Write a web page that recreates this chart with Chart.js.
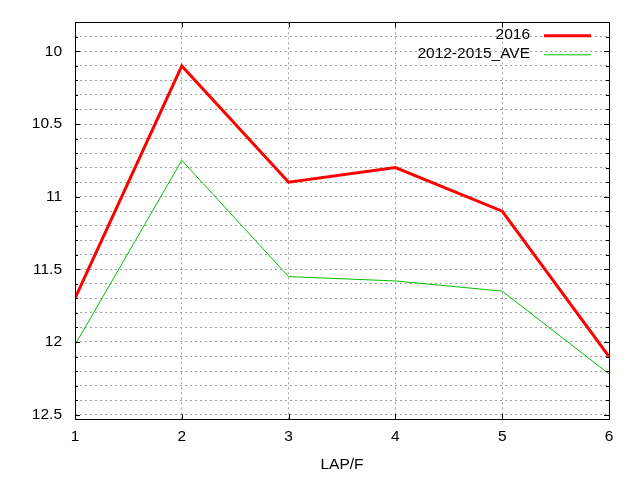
<!DOCTYPE html>
<html>
<head>
<meta charset="utf-8">
<script src="https://cdn.jsdelivr.net/npm/chart.js@4/dist/chart.umd.min.js"></script>
<style>
html,body{margin:0;padding:0;background:#fff;}
#wrap{width:640px;height:480px;}
</style>
</head>
<body>
<div id="wrap"><canvas id="c" width="640" height="480"></canvas></div>
<script>
const laps = [1, 2, 3, 4, 5, 6];
const series2016 = [11.7, 10.1, 10.9, 10.8, 11.1, 12.1];
const seriesAve = [12.02, 10.75, 11.55, 11.58, 11.65, 12.22];
const seriesNames = ['2016', '2012-2015_AVE'];
const xTickLabels = ['1', '2', '3', '4', '5', '6'];
const yTickLabels = ['10', '10.5', '11', '11.5', '12', '12.5'];

const FONT = "'Liberation Sans', Arial, sans-serif";
const FS = 15.5;

const framePlugin = {
  id: 'frame',
  afterDraw(chart) {
    const ctx = chart.ctx;
    const a = chart.chartArea;
    const ys = chart.scales.y, xs = chart.scales.x;
    ctx.save();
    ctx.strokeStyle = '#000';
    ctx.lineWidth = 1;
    ctx.strokeRect(Math.round(a.left) + 0.5, Math.round(a.top) + 0.5,
      Math.round(a.right - a.left), Math.round(a.bottom - a.top));
    ctx.beginPath();
    ys.ticks.forEach(t => {
      const r = Math.round(t.value * 10);
      const len = (r % 5 === 0) ? 5 : 3;
      const py = Math.round(ys.getPixelForValue(t.value)) + 0.5;
      ctx.moveTo(a.left, py); ctx.lineTo(a.left + len, py);
      ctx.moveTo(a.right, py); ctx.lineTo(a.right - len, py);
    });
    xs.ticks.forEach(t => {
      const px = Math.round(xs.getPixelForValue(t.value)) + 0.5;
      ctx.moveTo(px, a.bottom); ctx.lineTo(px, a.bottom - 5);
      ctx.moveTo(px, a.top); ctx.lineTo(px, a.top + 5);
    });
    ctx.stroke();
    ctx.font = FS + 'px ' + FONT;
    ctx.textAlign = 'right';
    ctx.textBaseline = 'middle';
    chart.data.datasets.forEach((ds, i) => {
      const y = a.top + 13 + i * 19;
      ctx.fillStyle = '#000';
      ctx.fillText(ds.label, a.right - 79, y - 1);
      ctx.strokeStyle = ds.borderColor;
      ctx.lineWidth = ds.borderWidth;
      ctx.beginPath();
      ctx.moveTo(a.right - 65, y + 0.5);
      ctx.lineTo(a.right - 18, y + 0.5);
      ctx.stroke();
    });
    ctx.restore();
  }
};

new Chart(document.getElementById('c'), {
  type: 'line',
  data: {
    labels: laps,
    datasets: [
      {
        label: seriesNames[0],
        data: laps.map((x, i) => ({x: x, y: series2016[i]})),
        borderColor: '#ff0000',
        borderWidth: 3,
        pointRadius: 0,
        tension: 0,
        fill: false
      },
      {
        label: seriesNames[1],
        data: laps.map((x, i) => ({x: x, y: seriesAve[i]})),
        borderColor: '#00c000',
        borderWidth: 1,
        pointRadius: 0,
        tension: 0,
        fill: false
      }
    ]
  },
  options: {
    responsive: false,
    animation: false,
    devicePixelRatio: 1,
    layout: { padding: { top: 20, right: 31, left: 0, bottom: 0 } },
    plugins: { legend: { display: false }, tooltip: { enabled: false } },
    scales: {
      x: {
        type: 'linear',
        min: 1, max: 6,
        afterFit(s) { s.height = 61; },
        afterBuildTicks(s) { s.ticks = laps.map(v => ({value: v})); },
        ticks: {
          padding: 8,
          color: '#000',
          font: { family: FONT, size: FS },
          autoSkip: false,
          maxRotation: 0,
          callback: (v) => { const i = laps.indexOf(v); return i >= 0 ? xTickLabels[i] : ''; }
        },
        grid: { color: '#a0a0a0', drawTicks: false, lineWidth: 1 },
        border: { display: false, dash: [2, 3] },
        title: {
          display: true,
          text: 'LAP/F',
          color: '#000',
          font: { family: FONT, size: FS },
          padding: { top: 0, bottom: 6 }
        }
      },
      y: {
        type: 'linear',
        reverse: true,
        min: 9.8, max: 12.53,
        afterFit(s) { s.width = 75; },
        afterBuildTicks(s) {
          const out = [];
          for (let r = 98; r <= 125; r++) out.push({value: r / 10});
          s.ticks = out;
        },
        ticks: {
          padding: 13,
          color: '#000',
          font: { family: FONT, size: FS },
          autoSkip: false,
          callback: (v) => {
            const r = Math.round(v * 10);
            if (r % 5 !== 0) return '';
            const idx = (r - 100) / 5;
            return (idx >= 0 && idx < yTickLabels.length) ? yTickLabels[idx] : '';
          }
        },
        grid: { color: '#a0a0a0', drawTicks: false, lineWidth: 1 },
        border: { display: false, dash: [2, 3] }
      }
    }
  },
  plugins: [framePlugin]
});
</script>
</body>
</html>
